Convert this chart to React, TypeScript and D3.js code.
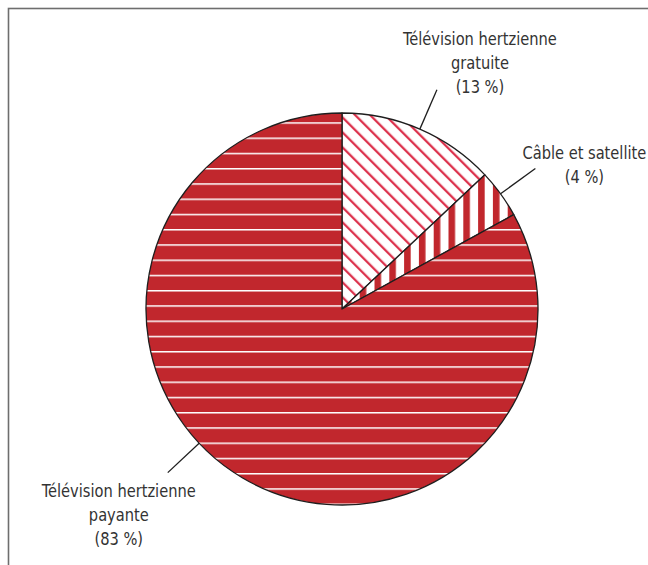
import React from "react";
import * as d3 from "d3";

const categories = ["Télévision hertzienne gratuite", "Câble et satellite", "Télévision hertzienne payante"];
const values = [13, 4, 83];
const labelLines = [
  ["Télévision hertzienne", "gratuite", "(13 %)"],
  ["Câble et satellite", "(4 %)"],
  ["Télévision hertzienne", "payante", "(83 %)"],
];

const W = 648;
const H = 565;
const cx = 342;
const cy = 309;
const R = 196;
const LEADER_R = 239;
const RED = "#c1272d";
const HATCH = "#d91f3c";

// leader angle (degrees, clockwise from top) – null = slice mid-angle
const leaderAngle: (number | null)[] = [null, null, 226.8];
// label offsets relative to leader end: [dx, dy of first baseline]
const labelOffset = [
  [43, -45],
  [49, -10],
  [-49, 24],
];

export default function App() {
  const pie = d3.pie<number>().sort(null).value((d) => d)(values);
  const arc = d3.arc<d3.PieArcDatum<number>>().innerRadius(0).outerRadius(R);
  const fills = ["url(#diag)", "url(#vert)", "url(#horiz)"];
  const font = "'DejaVu Sans Condensed', 'Liberation Sans Narrow', sans-serif";

  return (
    <svg
      width={W}
      height={H}
      style={{ position: "absolute", left: 0, top: 0, background: "#fff" }}
    >
      <defs>
        <pattern id="horiz" patternUnits="userSpaceOnUse" x={0} y={286} width={20} height={15.25}>
          <rect width={20} height={15.25} fill={RED} />
          <rect y={0} width={20} height={1.5} fill="#fff" />
        </pattern>
        <pattern id="vert" patternUnits="userSpaceOnUse" x={476.5} y={0} width={14.8} height={20}>
          <rect width={14.8} height={20} fill="#fff" />
          <rect x={0} width={6.6} height={20} fill={RED} />
        </pattern>
        <pattern
          id="diag"
          patternUnits="userSpaceOnUse"
          x={342}
          y={112}
          width={10.6}
          height={10.6}
          patternTransform="rotate(-45 342 112)"
        >
          <rect width={10.6} height={10.6} fill="#fff" />
          <rect x={4} y={0} width={2.1} height={10.6} fill={HATCH} />
        </pattern>
      </defs>
      <rect x={8.5} y={8.5} width={700} height={700} fill="none" stroke="#6e6e6e" strokeWidth={1.6} />
      {pie.map((d, i) => (
        <path
          key={categories[i]}
          d={arc(d) || ""}
          transform={`translate(${cx},${cy})`}
          fill={fills[i]}
          stroke="#1e1e1e"
          strokeWidth={1.3}
          strokeLinejoin="round"
        />
      ))}
      {pie.map((d, i) => {
        const deg = leaderAngle[i] ?? (((d.startAngle + d.endAngle) / 2) * 180) / Math.PI;
        const a = (deg * Math.PI) / 180;
        const x1 = cx + R * Math.sin(a);
        const y1 = cy - R * Math.cos(a);
        const x2 = cx + LEADER_R * Math.sin(a);
        const y2 = cy - LEADER_R * Math.cos(a);
        const [ox, oy] = labelOffset[i];
        return (
          <g key={"l" + i}>
            <line x1={x1} y1={y1} x2={x2} y2={y2} stroke="#1e1e1e" strokeWidth={1.3} />
            <g transform={`translate(${x2 + ox},${y2 + oy}) scale(0.88,1)`}>
              <text textAnchor="middle" fontFamily={font} fontSize={18.5} fill="#333">
                {labelLines[i].map((t, j) => (
                  <tspan key={j} x={0} dy={j === 0 ? 0 : 24.2}>
                    {t}
                  </tspan>
                ))}
              </text>
            </g>
          </g>
        );
      })}
    </svg>
  );
}
